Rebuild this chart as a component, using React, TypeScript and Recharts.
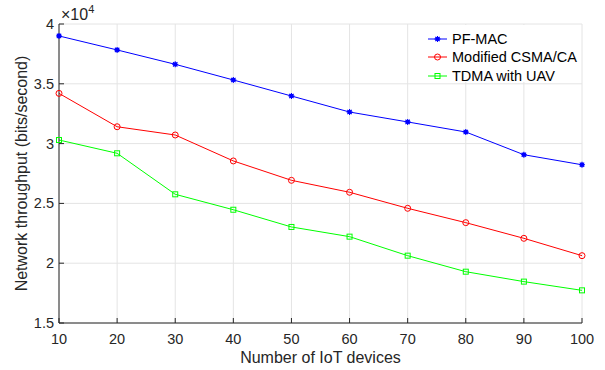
import React from 'react';
import { LineChart, Line, XAxis, YAxis, CartesianGrid, Legend, Label } from 'recharts';

const devices = [10, 20, 30, 40, 50, 60, 70, 80, 90, 100];
const pfMac = [39000, 37830, 36630, 35320, 33980, 32640, 31810, 30970, 29070, 28230];
const csma = [34200, 31410, 30720, 28550, 26930, 25930, 24590, 23390, 22080, 20630];
const tdma = [30300, 29190, 25760, 24470, 23030, 22220, 20630, 19290, 18460, 17730];

const xTicks = [10, 20, 30, 40, 50, 60, 70, 80, 90, 100];
const yTicks = [15000, 20000, 25000, 30000, 35000, 40000];
const yTickLabels = ['1.5', '2', '2.5', '3', '3.5', '4'];

const seriesNames = ['PF-MAC', 'Modified CSMA/CA', 'TDMA with UAV'];
const seriesKeys = ['pfMac', 'csma', 'tdma'];
const seriesColors = ['#0000ff', '#ff0000', '#00ff00'];
const seriesMarkers = ['star', 'circle', 'square'];

const data = devices.map((d, i) => ({ devices: d, pfMac: pfMac[i], csma: csma[i], tdma: tdma[i] }));

const FONT = '"Liberation Sans", Arial, Helvetica, sans-serif';
const AXIS = '#262626';

const Marker = ({ cx, cy, kind, color }: any) => {
    if (cx == null || cy == null) return null;
    if (kind === 'circle') {
        return <circle cx={cx} cy={cy} r={3} fill="none" stroke={color} strokeWidth={1} />;
    }
    if (kind === 'square') {
        return <rect x={cx - 2.5} y={cy - 2.5} width={5} height={5} fill="none" stroke={color} strokeWidth={1} />;
    }
    const r = 3;
    return (
        <g stroke={color} strokeWidth={1.1}>
            <circle cx={cx} cy={cy} r={1.6} fill={color} />
            <line x1={cx - r} y1={cy} x2={cx + r} y2={cy} />
            <line x1={cx} y1={cy - r} x2={cx} y2={cy + r} />
            <line x1={cx - 2.2} y1={cy - 2.2} x2={cx + 2.2} y2={cy + 2.2} />
            <line x1={cx - 2.2} y1={cy + 2.2} x2={cx + 2.2} y2={cy - 2.2} />
        </g>
    );
};

const BottomTick = ({ x, y, payload }: any) => (
    <g>
        <line x1={x} x2={x} y1={y} y2={y - 5} stroke={AXIS} />
        <text x={x} y={y + 16} textAnchor="middle" dominantBaseline="central" fill={AXIS} fontSize={14.5} fontFamily={FONT}>
            {payload.value}
        </text>
    </g>
);

const TopTick = ({ x, y }: any) => <line x1={x} x2={x} y1={y} y2={y + 5} stroke={AXIS} />;

const LeftTick = ({ x, y, payload }: any) => {
    const idx = yTicks.indexOf(payload.value);
    return (
        <g>
            <line x1={x} x2={x + 5} y1={y} y2={y} stroke={AXIS} />
            <text x={x - 5} y={y} textAnchor="end" dominantBaseline="central" fill={AXIS} fontSize={14.5} fontFamily={FONT}>
                {yTickLabels[idx]}
            </text>
        </g>
    );
};

const RightTick = ({ x, y }: any) => <line x1={x} x2={x - 5} y1={y} y2={y} stroke={AXIS} />;

const YTitle = ({ viewBox }: any) => {
    const cx = 21;
    const cy = viewBox.y + viewBox.height / 2;
    return (
        <g>
            <text
                x={cx}
                y={cy}
                transform={`rotate(-90, ${cx}, ${cy})`}
                textAnchor="middle"
                dominantBaseline="central"
                fill={AXIS}
                fontSize={16}
                fontFamily={FONT}
            >
                Network throughput (bits/second)
            </text>
            <text x={61} y={20} fill={AXIS} fontSize={16} fontFamily={FONT}>
                ×10
                <tspan dy={-7} fontSize={11}>4</tspan>
            </text>
        </g>
    );
};

const XTitle = ({ viewBox }: any) => (
    <text
        x={viewBox.x + viewBox.width / 2}
        y={357}
        textAnchor="middle"
        dominantBaseline="central"
        fill={AXIS}
        fontSize={16}
        fontFamily={FONT}
    >
        Number of IoT devices
    </text>
);

const LegendBox = () => (
    <div style={{ background: '#fff', width: 159, height: 57, paddingTop: 5, boxSizing: 'border-box', fontFamily: FONT, fontSize: 14.5, color: '#000' }}>
        {seriesNames.map((name, i) => (
            <div key={name} style={{ display: 'flex', alignItems: 'center', height: 18.3 }}>
                <svg width={30} height={18} style={{ display: 'block' }}>
                    <line x1={6} x2={25} y1={9} y2={9} stroke={seriesColors[i]} strokeWidth={1} />
                    <Marker cx={15.5} cy={9} kind={seriesMarkers[i]} color={seriesColors[i]} />
                </svg>
                <span style={{ whiteSpace: 'nowrap', lineHeight: '18px' }}>{name}</span>
            </div>
        ))}
    </div>
);

export default function App() {
    return (
        <div style={{ position: 'absolute', left: 0, top: 0, width: 605, height: 370, background: '#fff' }}>
            <LineChart width={605} height={370} data={data} margin={{ top: 24, right: 23, bottom: 0, left: 0 }}>
                <CartesianGrid stroke="#e4e4e4" horizontalValues={yTicks} verticalValues={xTicks} />
                <XAxis
                    dataKey="devices"
                    type="number"
                    domain={[10, 100]}
                    ticks={xTicks}
                    interval={0}
                    height={47}
                    tickSize={0}
                    tickMargin={0}
                    tick={<BottomTick />}
                    stroke={AXIS}
                >
                    <Label content={<XTitle />} />
                </XAxis>
                <XAxis
                    xAxisId="top"
                    orientation="top"
                    dataKey="devices"
                    type="number"
                    domain={[10, 100]}
                    ticks={xTicks}
                    interval={0}
                    height={0}
                    tickSize={0}
                    tickMargin={0}
                    tick={<TopTick />}
                    stroke={AXIS}
                />
                <YAxis
                    type="number"
                    domain={[15000, 40000]}
                    ticks={yTicks}
                    interval={0}
                    width={59}
                    tickSize={0}
                    tickMargin={0}
                    tick={<LeftTick />}
                    stroke={AXIS}
                >
                    <Label content={<YTitle />} />
                </YAxis>
                <YAxis
                    yAxisId="right"
                    orientation="right"
                    type="number"
                    domain={[15000, 40000]}
                    ticks={yTicks}
                    interval={0}
                    width={0}
                    tickSize={0}
                    tickMargin={0}
                    tick={<RightTick />}
                    stroke={AXIS}
                />
                {seriesKeys.map((key, i) => (
                    <Line
                        key={key}
                        dataKey={key}
                        name={seriesNames[i]}
                        stroke={seriesColors[i]}
                        strokeWidth={1}
                        type="linear"
                        isAnimationActive={false}
                        dot={(p: any) => <Marker key={`${key}-${p.index}`} cx={p.cx} cy={p.cy} kind={seriesMarkers[i]} color={seriesColors[i]} />}
                        activeDot={false}
                    />
                ))}
                <Legend
                    layout="horizontal"
                    align="center"
                    verticalAlign="middle"
                    content={<LegendBox />}
                    wrapperStyle={{ left: 422, top: 25, width: 159, height: 57 }}
                />
            </LineChart>
        </div>
    );
}
